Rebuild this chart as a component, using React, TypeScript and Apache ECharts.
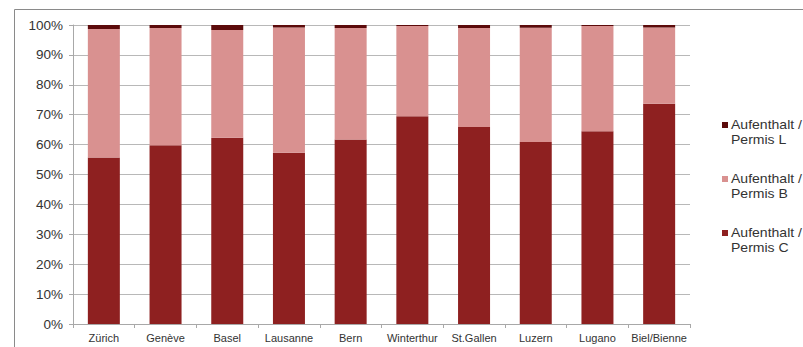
import React, { useEffect, useRef } from "react";
import * as echarts from "echarts";

const cities = ["Zürich", "Genève", "Basel", "Lausanne", "Bern", "Winterthur", "St.Gallen", "Luzern", "Lugano", "Biel/Bienne"];
const permisC = [55.7, 59.8, 62.3, 57.3, 61.7, 69.5, 65.9, 60.9, 64.5, 73.7];
const permisL = [1.3, 1.0, 1.7, 0.8, 1.0, 0.3, 1.0, 0.9, 0.3, 0.8];
const permisB = permisC.map((c, i) => +(100 - c - permisL[i]).toFixed(1));
const seriesNames = ["Aufenthalt /\nPermis C", "Aufenthalt /\nPermis B", "Aufenthalt /\nPermis L"];
const colors = ["#8e2020", "#d99190", "#5c0b0b"];
const yTicks = [0, 10, 20, 30, 40, 50, 60, 70, 80, 90, 100];

export default function App() {
  const ref = useRef<HTMLDivElement>(null);
  useEffect(() => {
    if (!ref.current) return;
    const chart = echarts.init(ref.current, null, { renderer: "svg" });
    const dataSets = [permisC, permisB, permisL];
    // legend drawn top-to-bottom: L, B, C
    const legendOrder = [2, 1, 0];
    const legendGraphics: any[] = [];
    legendOrder.forEach((si, k) => {
      const y0 = 122 + k * 54;
      legendGraphics.push({
        type: "rect",
        shape: { x: 722, y: y0, width: 6, height: 6 },
        style: { fill: colors[si] },
      });
      legendGraphics.push({
        type: "text",
        x: 731,
        y: y0 - 5,
        scaleX: 1.08,
        style: {
          text: seriesNames[si],
          fontFamily: "Liberation Sans, Arial, sans-serif",
          fontSize: 13,
          lineHeight: 15,
          fill: "#333",
        },
      });
    });
    chart.setOption({
      animation: false,
      grid: { left: 73, right: 113, top: 25, bottom: 23, containLabel: false },
      xAxis: {
        type: "category",
        data: cities,
        axisLine: { show: true, lineStyle: { color: "#a8a8a8" } },
        axisTick: { show: true, length: 4, lineStyle: { color: "#a8a8a8" } },
        axisLabel: { fontSize: 11, color: "#333", margin: 8, fontFamily: "Liberation Sans, Arial, sans-serif", interval: 0 },
      },
      yAxis: {
        type: "value",
        min: yTicks[0],
        max: yTicks[yTicks.length - 1],
        interval: 10,
        axisLine: { show: true, lineStyle: { color: "#a8a8a8" } },
        axisTick: { show: true, length: 4, lineStyle: { color: "#a8a8a8" } },
        axisLabel: { formatter: "{value}%", fontSize: 13.5, color: "#333", margin: 10, fontFamily: "Liberation Sans, Arial, sans-serif" },
        splitLine: { show: true, lineStyle: { color: "#b8b8b8", width: 1 } },
      },
      graphic: [
        {
          type: "rect",
          shape: { x: 14.5, y: 9.5, width: 900, height: 400 },
          style: { fill: "none", stroke: "#8a8a8a", lineWidth: 1 },
          z: -10,
        },
        ...legendGraphics,
      ],
      series: dataSets.map((d, i) => ({
        name: seriesNames[i],
        type: "bar",
        stack: "total",
        barWidth: 32,
        data: d,
        itemStyle: { color: colors[i] },
      })),
    });
    return () => chart.dispose();
  }, []);
  return <div ref={ref} style={{ position: "fixed", left: 0, top: 0, width: 803, height: 347, background: "#fff" }} />;
}
